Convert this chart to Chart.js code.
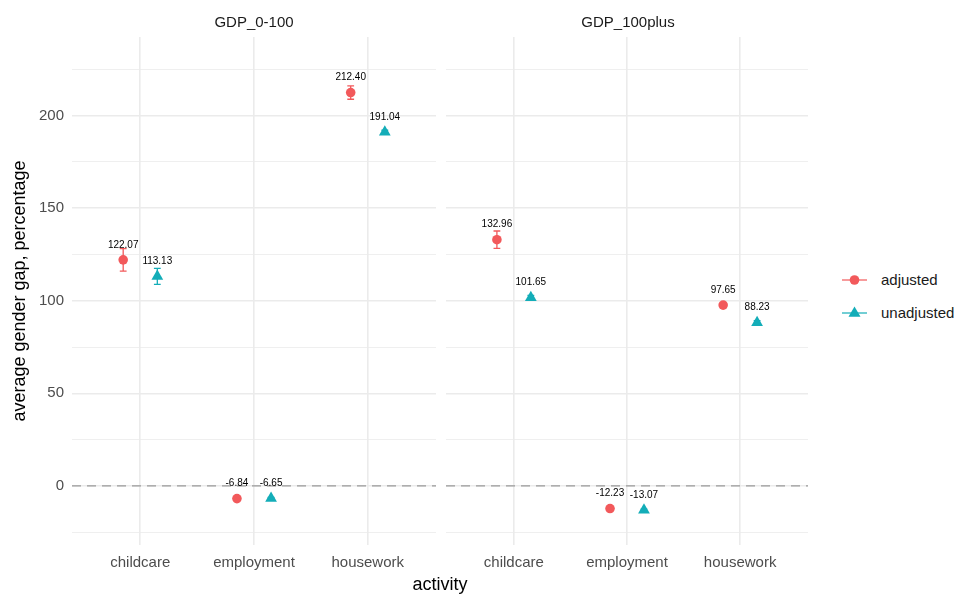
<!DOCTYPE html>
<html>
<head>
<meta charset="utf-8">
<script src="https://cdn.jsdelivr.net/npm/chart.js@4/dist/chart.umd.min.js"></script>
<style>
  body { margin: 0; background: #fff; font-family: 'Liberation Sans', Arial, sans-serif; }
  #wrap { position: relative; width: 966px; height: 594px; overflow: hidden; }
  canvas { position: absolute; top: 0; }
  #c1 { left: 0; }
  #c2 { left: 446px; }
  .strip { position: absolute; top: 13px; font-size: 15px; color: #1a1a1a; text-align: center; width: 364px; }
  #xtitle { position: absolute; left: 0; width: 880px; top: 574px; text-align: center; font-size: 18px; color: #000; }
  .key { position: absolute; left: 840px; height: 20px; font-size: 15px; color: #1a1a1a; }
  .key svg { position: absolute; left: 0; top: 0; }
  .key span { position: absolute; left: 41px; top: 1px; white-space: nowrap; }
</style>
</head>
<body>
<div id="wrap">
  <canvas id="c1" width="436" height="594"></canvas>
  <canvas id="c2" width="362" height="594"></canvas>
  <div class="strip" style="left:72px">GDP_0-100</div>
  <div class="strip" style="left:446px">GDP_100plus</div>
  <div id="xtitle">activity</div>
  <div class="key" style="top:270px">
    <svg width="30" height="20"><line x1="2" y1="10" x2="27" y2="10" stroke="#F2595B" stroke-width="1.2"/><circle cx="14.5" cy="10" r="4.8" fill="#F2595B"/></svg>
    <span>adjusted</span>
  </div>
  <div class="key" style="top:303px">
    <svg width="30" height="20"><line x1="2" y1="10" x2="27" y2="10" stroke="#13ADB8" stroke-width="1.2"/><polygon points="14.5,3.5 20.5,13.8 8.5,13.8" fill="#13ADB8"/></svg>
    <span>unadjusted</span>
  </div>
</div>
<script>
const categories = ['childcare', 'employment', 'housework']

// GDP_0-100
const adjusted0 = [122.07, -6.84, 212.40]
const unadjusted0 = [113.13, -6.65, 191.04]
const adjustedErr0 = [6.1, 0.6, 3.6]
const unadjustedErr0 = [4.3, 0.5, 1.0]

// GDP_100plus
const adjusted1 = [132.96, -12.23, 97.65]
const unadjusted1 = [101.65, -13.07, 88.23]
const adjustedErr1 = [4.7, 0.5, 1.0]
const unadjustedErr1 = [1.2, 0.5, 1.0]

const yTicks = [-25, 0, 25, 50, 75, 100, 125, 150, 175, 200, 225]
const xTicks = [1, 2, 3]

const red = '#F2595B'
const teal = '#13ADB8'
const grid = '#ebebeb'
const dodge = 0.15

Chart.defaults.font.family = "'Liberation Sans', Arial, sans-serif"

const toPoints = (values, shift) => values.map((v, i) => ({ x: i + 1 + shift, y: v }))

const zeroLine = {
  id: 'zeroLine',
  beforeDatasetsDraw(chart) {
    const { ctx, chartArea, scales } = chart
    const y = scales.y.getPixelForValue(0)
    ctx.save()
    ctx.strokeStyle = '#9a9a9a'
    ctx.lineWidth = 1.3
    ctx.setLineDash([9, 6])
    ctx.beginPath()
    ctx.moveTo(chartArea.left, y)
    ctx.lineTo(chartArea.right, y)
    ctx.stroke()
    ctx.restore()
  }
}

const errorBars = {
  id: 'errorBars',
  beforeDatasetsDraw(chart) {
    const { ctx, scales } = chart
    ctx.save()
    chart.data.datasets.forEach(ds => {
      ctx.strokeStyle = ds.backgroundColor
      ctx.lineWidth = 1.3
      ds.data.forEach((p, i) => {
        const x = scales.x.getPixelForValue(p.x)
        const top = scales.y.getPixelForValue(p.y + ds.errors[i])
        const bot = scales.y.getPixelForValue(p.y - ds.errors[i])
        ctx.beginPath()
        ctx.moveTo(x, top); ctx.lineTo(x, bot)
        ctx.moveTo(x - 3.4, top); ctx.lineTo(x + 3.4, top)
        ctx.moveTo(x - 3.4, bot); ctx.lineTo(x + 3.4, bot)
        ctx.stroke()
      })
    })
    ctx.restore()
  }
}

const valueLabels = {
  id: 'valueLabels',
  afterDatasetsDraw(chart) {
    const { ctx } = chart
    ctx.save()
    ctx.fillStyle = '#000'
    ctx.font = "10px 'Liberation Sans', Arial, sans-serif"
    ctx.textAlign = 'center'
    ctx.textBaseline = 'middle'
    chart.data.datasets.forEach((ds, di) => {
      chart.getDatasetMeta(di).data.forEach((el, i) => {
        ctx.fillText(ds.data[i].y.toFixed(2), el.x, el.y - 15)
      })
    })
    ctx.restore()
  }
}

const makeChart = (id, adj, unadj, adjErr, unadjErr, first) => {
  const data = {
    datasets: [
      {
        label: 'adjusted',
        data: toPoints(adj, -dodge),
        errors: adjErr,
        backgroundColor: red,
        borderWidth: 0,
        pointStyle: 'circle',
        pointRadius: 4.8
      },
      {
        label: 'unadjusted',
        data: toPoints(unadj, dodge),
        errors: unadjErr,
        backgroundColor: teal,
        borderWidth: 0,
        pointStyle: 'triangle',
        pointRadius: 6.8
      }
    ]
  }

  const options = {
    responsive: false,
    animation: false,
    layout: { autoPadding: false, padding: { top: 37, left: 0, right: 0, bottom: 0 } },
    plugins: {
      legend: { display: false },
      tooltip: { enabled: false }
    },
    scales: {
      x: {
        type: 'linear',
        min: 0.4,
        max: 3.6,
        afterBuildTicks: s => { s.ticks = xTicks.map(v => ({ value: v })) },
        afterFit: s => {
          s.height = 49
          s.paddingLeft = 0
          s.paddingRight = 0
        },
        grid: { color: grid, lineWidth: 1.6, drawTicks: false },
        border: { display: false },
        ticks: {
          autoSkip: false,
          maxRotation: 0,
          padding: 9,
          color: '#4d4d4d',
          font: { size: 15 },
          callback: v => categories[v - 1]
        }
      },
      y: {
        min: -31.9,
        max: 242.4,
        afterBuildTicks: s => { s.ticks = yTicks.map(v => ({ value: v })) },
        afterFit: s => {
          s.width = first ? 72 : 0
          s.paddingTop = 0
          s.paddingBottom = 0
        },
        grid: {
          color: grid,
          drawTicks: false,
          lineWidth: c => (c.tick && c.tick.value % 50 === 0) ? 1.6 : 0.8
        },
        border: { display: false },
        ticks: {
          display: first,
          padding: 8,
          color: '#4d4d4d',
          font: { size: 15 },
          callback: v => v % 50 === 0 ? String(v) : ''
        },
        title: {
          display: first,
          text: 'average gender gap, percentage',
          color: '#000',
          font: { size: 18 },
          padding: { top: 9, bottom: 0 }
        }
      }
    }
  }

  return new Chart(id, { type: 'scatter', data, options, plugins: [zeroLine, errorBars, valueLabels] })
}

makeChart('c1', adjusted0, unadjusted0, adjustedErr0, unadjustedErr0, true)
makeChart('c2', adjusted1, unadjusted1, adjustedErr1, unadjustedErr1, false)
</script>
</body>
</html>
